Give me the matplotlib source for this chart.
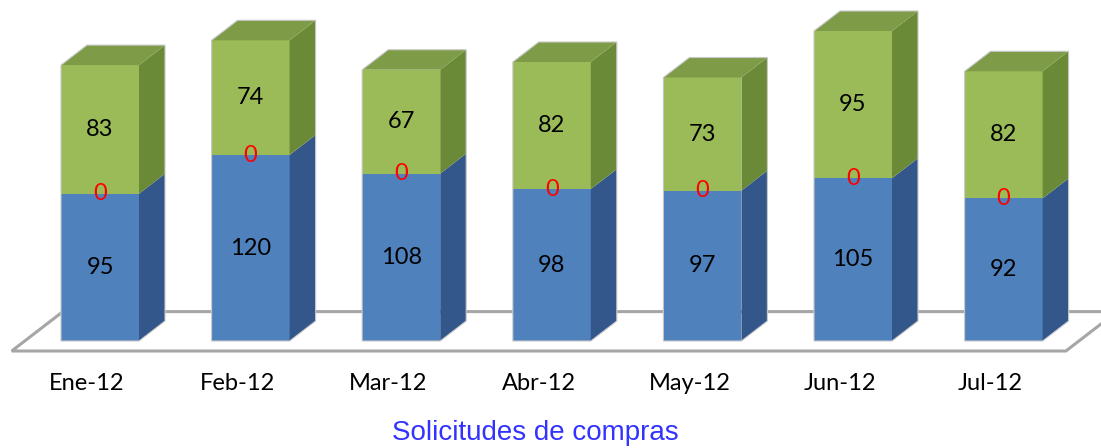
import matplotlib
matplotlib.use("Agg")
import matplotlib.pyplot as plt
from matplotlib.patches import Polygon

# ---- data ----
categories = ['Ene-12', 'Feb-12', 'Mar-12', 'Abr-12', 'May-12', 'Jun-12', 'Jul-12']
serie_azul = [95, 120, 108, 98, 97, 105, 92]
serie_cero = [0, 0, 0, 0, 0, 0, 0]
serie_verde = [83, 74, 67, 82, 73, 95, 82]
titulo = 'Solicitudes de compras'

# ---- geometry (in data units) ----
W_PX, H_PX = 1101, 448
PX_CAT = 150.6          # pixels per category
PX_VAL = 1.55           # pixels per value unit
X0_PX, Y0_PX = 87, 341  # pixel of (cat 0, value 0), y measured from top

bar_w = 78 / PX_CAT
bar_shift = 13 / PX_CAT             # bar front centre offset from slot centre
bdx, bdy = 26 / PX_CAT, 20 / PX_VAL  # bar depth vector
fdx, fdy = 51.2 / PX_CAT, 39.4 / PX_VAL  # floor depth vector
floor_front_y = -10 / PX_VAL

blue_front, blue_side, blue_top = '#4F81BD', '#33578A', '#45709F'
green_front, green_side, green_top = '#9BBB59', '#6B8A38', '#7E9C48'

fig = plt.figure(figsize=(W_PX / 100, H_PX / 100), dpi=100)
ax = fig.add_axes([0, 0, 1, 1])
ax.set_xlim(-X0_PX / PX_CAT, (W_PX - X0_PX) / PX_CAT)
ax.set_ylim(-(H_PX - Y0_PX) / PX_VAL, Y0_PX / PX_VAL)
ax.axis('off')

# floor
n = len(categories)
xl, xr = -0.5, n - 0.5
floor = Polygon([(xl, floor_front_y), (xr, floor_front_y),
                 (xr + fdx, floor_front_y + fdy), (xl + fdx, floor_front_y + fdy)],
                closed=True, facecolor='white', edgecolor='#A6A6A6', lw=2.2, zorder=1)
ax.add_patch(floor)


def box(x_left, y0, h, front, side, top, z, draw_top=True):
    x_right = x_left + bar_w
    ax.add_patch(Polygon([(x_left, y0), (x_right, y0), (x_right, y0 + h), (x_left, y0 + h)],
                         facecolor=front, edgecolor='none', zorder=z))
    ax.add_patch(Polygon([(x_right, y0), (x_right + bdx, y0 + bdy),
                          (x_right + bdx, y0 + h + bdy), (x_right, y0 + h)],
                         facecolor=side, edgecolor='none', zorder=z))
    if draw_top:
        ax.add_patch(Polygon([(x_left, y0 + h), (x_right, y0 + h),
                              (x_right + bdx, y0 + h + bdy), (x_left + bdx, y0 + h + bdy)],
                             facecolor=top, edgecolor='none', zorder=z))


lab_font = dict(family=['Lato', 'DejaVu Sans'], fontsize=17)
for i in range(n):
    xc = i + bar_shift
    x_left = xc - bar_w / 2
    b, c, g = serie_azul[i], serie_cero[i], serie_verde[i]
    box(x_left, 0, b, blue_front, blue_side, blue_top, 2, draw_top=False)
    box(x_left, b + c, g, green_front, green_side, green_top, 2)
    # outline of silhouette
    tot = b + c + g
    ax.add_patch(Polygon([(x_left, 0), (x_left + bar_w, 0), (x_left + bar_w + bdx, bdy),
                          (x_left + bar_w + bdx, tot + bdy), (x_left + bdx, tot + bdy),
                          (x_left, tot)], closed=True, facecolor='none',
                         edgecolor='#C8C8C8', lw=0.8, zorder=3))
    ax.text(xc, b / 2, str(b), ha='center', va='center', color='black', zorder=5, **lab_font)
    ax.text(xc, b + c / 2, str(c), ha='center', va='center', color='#FF0000', zorder=5, **lab_font)
    ax.text(xc, b + c + g / 2, str(g), ha='center', va='center', color='black', zorder=5, **lab_font)
    ax.text(i, (Y0_PX - 383) / PX_VAL, categories[i], ha='center', va='center',
            color='black', zorder=5, **lab_font)

fig.text(535 / W_PX, 1 - 433 / H_PX, titulo, ha='center', va='center',
         color='#3333FF', fontsize=20, family=['Liberation Sans', 'DejaVu Sans'])

fig.savefig('out.png', dpi=100)
